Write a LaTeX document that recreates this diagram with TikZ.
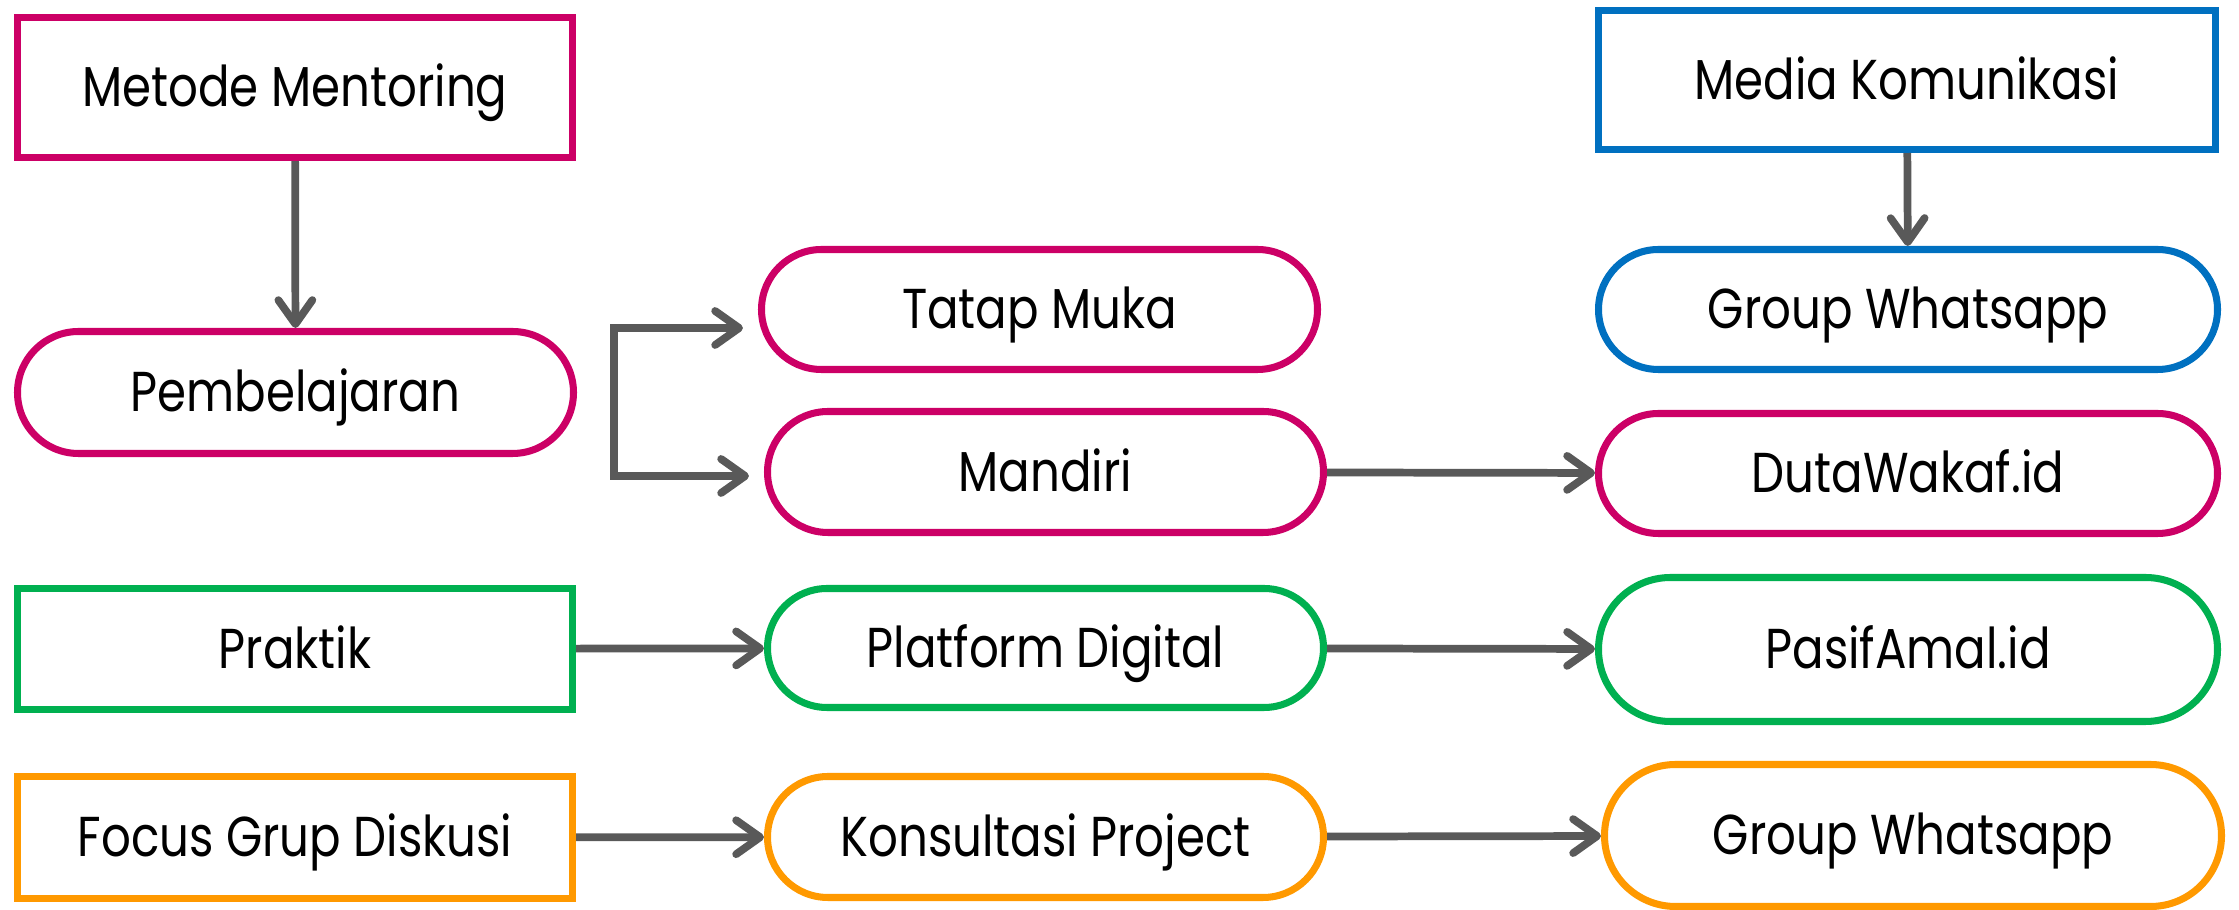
\documentclass[tikz,border=0pt]{standalone}
\usepackage{fontspec}
\setmainfont{Poppins}[FakeStretch=0.83]
\usetikzlibrary{arrows.meta, shapes.misc}
\definecolor{pinkline}{HTML}{CC0066}
\definecolor{blueline}{HTML}{0070C0}
\definecolor{greenline}{HTML}{00B050}
\definecolor{orangeline}{HTML}{FF9900}
\definecolor{arrowgray}{HTML}{595959}

\begin{document}
\begin{tikzpicture}[
    box/.style={draw=#1, line width=2pt, inner sep=0pt, text height=0.39cm, text depth=0pt,
        font=\fontsize{16}{19}\selectfont},
    pill/.style={rounded rectangle, draw=#1, line width=2pt, inner sep=0pt, text height=0.39cm,
        text depth=0pt, font=\fontsize{16}{19}\selectfont},
    arr/.style={arrowgray, line width=2.2pt, -{Straight Barb[length=2.4mm, width=3.4mm, round]}}
]
    \useasboundingbox (0,0) rectangle (22.39,-9.10);

    % Metode Mentoring
    \node[box=pinkline, minimum width=5.55cm, minimum height=1.40cm] (mentor) at (2.95,-0.875) {Metode Mentoring};
    \node[pill=pinkline, minimum width=5.56cm, minimum height=1.22cm] (belajar) at (2.955,-3.925) {Pembelajaran};
    \node[pill=pinkline, minimum width=5.56cm, minimum height=1.20cm] (tatap) at (10.395,-3.095) {Tatap Muka};
    \node[pill=pinkline, minimum width=5.56cm, minimum height=1.21cm] (mandiri) at (10.455,-4.72) {Mandiri};
    \draw[arr] (mentor) -- (belajar);
    \coordinate (brtop) at (6.14,-3.28);
    \coordinate (brbot) at (6.14,-4.76);
    \draw[arr, shorten >=1.5mm] (brtop) -- (brtop -| tatap.west);
    \draw[arr, shorten >=1.5mm] (brbot) -- (brbot -| mandiri.west);
    \draw[arrowgray, line width=2.2pt] ([yshift=1.1pt]brtop) -- ([yshift=-1.1pt]brbot);

    % Media Komunikasi
    \node[box=blueline, minimum width=6.17cm, minimum height=1.39cm] (media) at (19.07,-0.80) {Media Komunikasi};
    \node[pill=blueline, minimum width=6.19cm, minimum height=1.20cm] (grupwa) at (19.08,-3.095) {Group Whatsapp};
    \node[pill=pinkline, minimum width=6.19cm, minimum height=1.20cm] (duta) at (19.08,-4.735) {DutaWakaf.id};
    \draw[arr] (media) -- (grupwa);
    \draw[arr] (mandiri) -- (duta);

    % Praktik
    \node[box=greenline, minimum width=5.55cm, minimum height=1.21cm] (praktik) at (2.95,-6.49) {Praktik};
    \node[pill=greenline, minimum width=5.56cm, minimum height=1.19cm] (platform) at (10.455,-6.48) {Platform Digital};
    \node[pill=greenline, minimum width=6.19cm, minimum height=1.44cm] (pasif) at (19.08,-6.495) {PasifAmal.id};
    \draw[arr] (praktik) -- (platform);
    \draw[arr] (platform) -- (pasif);

    % Focus Grup Diskusi
    \node[box=orangeline, minimum width=5.55cm, minimum height=1.22cm] (fgd) at (2.95,-8.375) {Focus Grup Diskusi};
    \node[pill=orangeline, minimum width=5.56cm, minimum height=1.21cm] (konsul) at (10.455,-8.37) {Konsultasi Project};
    \node[pill=orangeline, minimum width=6.17cm, minimum height=1.42cm] (grupwa2) at (19.13,-8.355) {Group Whatsapp};
    \draw[arr] (fgd) -- (konsul);
    \draw[arr] (konsul) -- (grupwa2);
\end{tikzpicture}
\end{document}
